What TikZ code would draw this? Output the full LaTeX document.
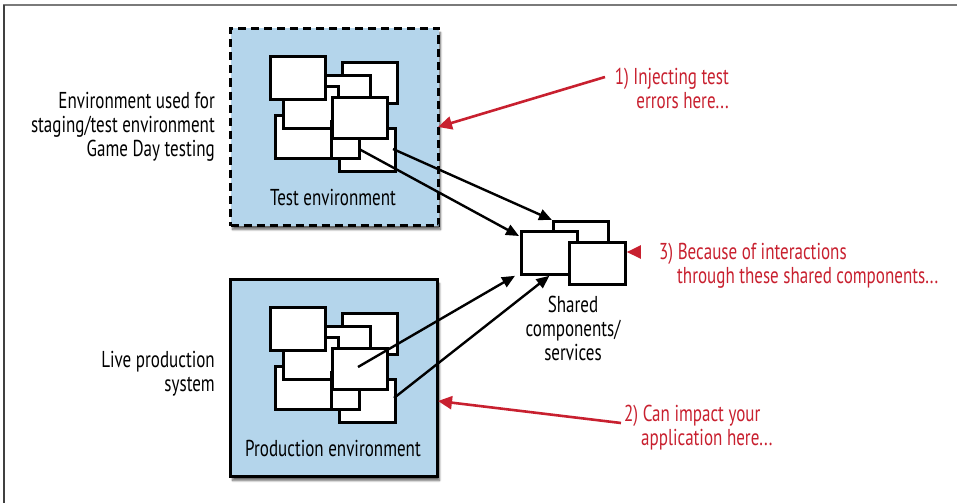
\documentclass[tikz,border=0pt]{standalone}
\usepackage{fontspec}
\setmainfont[FakeStretch=0.74]{PT Sans}
\usetikzlibrary{arrows.meta,shadows.blur,calc}
\definecolor{envblue}{HTML}{B4D5EB}
\definecolor{noteRed}{HTML}{C8202F}
\definecolor{frameGray}{HTML}{7A7A7A}
\tikzset{
  x=1pt,y=-1pt,
  envbox/.style={draw=black,line width=3pt,fill=envblue,
    blur shadow={shadow xshift=2pt,shadow yshift=-4pt,shadow blur steps=6,shadow opacity=60}},
  ibox/.style={draw=black,line width=2.8pt,fill=white,inner sep=0pt,anchor=north west},
  lbl/.style={font=\fontsize{23}{24}\selectfont,inner sep=0pt},
  rlbl/.style={lbl,text=noteRed},
  conn/.style={line width=2.4pt,-{Triangle[length=13pt,width=11pt]}},
  rconn/.style={draw=noteRed,line width=2.6pt,-{Triangle[length=14pt,width=13pt]}},
}
\newcommand{\wbox}[5]{\node[ibox,minimum width=#4,minimum height=#5] (#1) at (#2,#3) {};}
\newcommand{\cluster}[3]{%
  \wbox{#1B}{#2+112}{#3+34}{55}{41}
  \wbox{#1C}{#2+76}{#3+47}{64}{36}
  \wbox{#1F}{#2+109}{#3+100}{56}{43}
  \wbox{#1E}{#2+45}{#3+87}{56}{43}
  \wbox{#1D}{#2+53}{#3+58}{55}{42}
  \wbox{#1A}{#2+40}{#3+28}{55}{43}
  \wbox{#1H}{#2+101}{#3+93}{28}{37}
  \wbox{#1G}{#2+102}{#3+69}{55}{41}
}
\begin{document}
\begin{tikzpicture}
\useasboundingbox (0,0) rectangle (957,503);
% frame
\draw[frameGray,line width=2pt] (3,5.5) -- (957,5.5);
\draw[black!75,line width=2pt] (4,5) -- (4,503);
% environments
\node[envbox,dashed,dash pattern=on 8pt off 5pt,minimum width=208,minimum height=197,anchor=north west] (testenv) at (229,27) {};
\node[envbox,minimum width=207,minimum height=197,anchor=north west] (prodenv) at (229,278) {};
\cluster{t}{229}{27}
\cluster{p}{229}{278}
\node[lbl] (testlbl) at (333,197) {Test environment};
\node[lbl] (prodlbl) at (333,448) {Production environment};
% shared components
\wbox{sb}{552}{220}{55}{30}
\wbox{sl}{520}{230}{56}{43}
\wbox{sr}{568}{241}{56}{42}
\node[lbl,align=center] (sharedlbl) at (573,328) {Shared\\components/\\services};
% left labels
\node[lbl,align=right,anchor=east] (stagelbl) at (215,127) {Environment used for\\staging/test environment\\Game Day testing};
\node[lbl,align=right,anchor=east] (livelbl) at (215,374) {Live production\\system};
% connectors
\coordinate (t1s) at (393,149);
\coordinate (t2s) at (359,149);
\coordinate (p1s) at (358,367);
\coordinate (p2s) at (394,398);
\draw[conn] (t1s) -- (sb.north west);
\draw[conn] (t2s) -- ($(sl.north west)+(-1,6)$);
\draw[conn] (p1s) -- ($(sl.south west)+(-5,0)$);
\draw[conn] (p2s) -- ($(sl.south west)!0.5!(sl.south east)$);
% red notes
\node[rlbl,align=right,anchor=east] (note1) at (729,88) {1) Injecting test\\errors here...};
\node[rlbl,anchor=west] (note3a) at (659,254) {3) Because of interactions};
\node[rlbl,anchor=west] (note3b) at (677,278) {through these shared components...};
\node[rlbl,anchor=west] (note2a) at (624,416) {2) Can impact your};
\node[rlbl,anchor=west] (note2b) at (641,440) {application here...};
\coordinate (r1s) at (605,77);
\coordinate (r1e) at (438,127);
\coordinate (r2s) at (621,423);
\coordinate (r2e) at (438,401);
\coordinate (r3s) at (641,252);
\draw[rconn] (r1s) -- (r1e);
\draw[rconn] (r2s) -- (r2e);
\draw[rconn] (r3s) -- (sr.east |- r3s);
\end{tikzpicture}
\end{document}
